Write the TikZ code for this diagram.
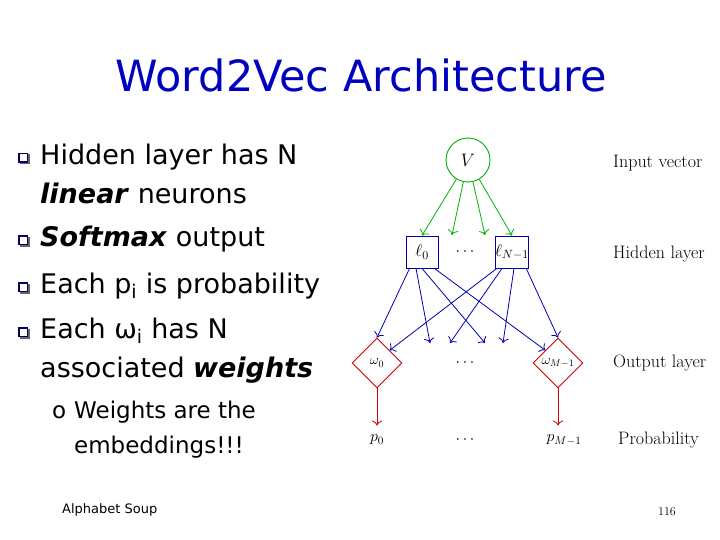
\documentclass[tikz,border=0pt]{standalone}
\usepackage{fix-cm}
\usepackage{fontspec}
\setsansfont{DejaVu Sans}
\usetikzlibrary{shapes.geometric,arrows.meta}
\tikzset{
  slidetxt/.style={anchor=west,inner sep=0pt,font=\sffamily\fontsize{27}{30}\selectfont},
  subtxt/.style={anchor=west,inner sep=0pt,font=\sffamily\fontsize{23}{26}\selectfont},
  sidelbl/.style={anchor=west,inner sep=0pt,font=\fontsize{18}{20}\selectfont},
  hidbox/.style={draw=blue!70!black,line width=0.9pt,minimum size=32pt,inner sep=0pt,font=\fontsize{17}{20}\selectfont},
  outdia/.style={diamond,draw=red!80!black,line width=0.9pt,minimum size=50pt,inner sep=0pt,font=\fontsize{14}{16}\selectfont},
  garr/.style={draw=green!70!black,line width=0.8pt,-{To[length=5pt]}},
  barr/.style={draw=blue!70!black,line width=0.8pt,-{To[length=5pt]}},
  rarr/.style={draw=red!80!black,line width=0.8pt,-{To[length=5pt]}}
}
\newcommand{\qbul}[2]{%
  \fill[black!60] (#1+1.5,#2+1.5) rectangle ++(10,-10);
  \fill[blue!40!black] (#1,#2) rectangle ++(10,-10);
  \fill[white] (#1+1.5,#2-1.5) rectangle ++(7,-7);}
\begin{document}
\begin{tikzpicture}[x=1pt,y=-1pt]
  \useasboundingbox (0,0) rectangle (720,540);
  % title
  \node (title) at (361,75) {\sffamily\fontsize{43}{48}\selectfont\color{blue!75!black}Word2Vec Architecture};
  % bullets
  \qbul{18}{163}
  \node[slidetxt] (b1) at (40,157) {Hidden layer has N};
  \node[slidetxt] (b1b) at (40,193) {\textit{\textbf{linear}} neurons};
  \qbul{18}{245}
  \node[slidetxt] (b2) at (40,239) {\textit{\textbf{Softmax}} output};
  \qbul{18}{292}
  \node[slidetxt] (b3) at (40,286) {Each p\textsubscript{i} is probability};
  \qbul{18}{337}
  \node[slidetxt] (b4) at (40,331) {Each ω\textsubscript{i} has N};
  \node[slidetxt] (b4b) at (40,370) {associated \textit{\textbf{weights}}};
  \node[subtxt] (s1) at (52,412) {o};
  \node[subtxt] (s1a) at (74,412) {Weights are the};
  \node[subtxt] (s1b) at (74,447) {embeddings!!!};
  \node[slidetxt,font=\sffamily\fontsize{13}{15}\selectfont] (foot) at (62,510) {Alphabet Soup};
  \node[font=\fontsize{12}{14}\selectfont] (pg) at (667,512) {116};
  % network
  \node[circle,draw=green!70!black,line width=0.9pt,minimum size=44pt,inner sep=0pt,font=\fontsize{18}{20}\selectfont] (V) at (468,160) {$V$};
  \node[font=\fontsize{16}{18}\selectfont] (ldots) at (465,252) {$\cdots$};
  \node[hidbox] (l0) at (422,252) {$\ell_0$};
  \node[hidbox] (lN) at (512,252) {$\ell_{N-1}$};
  \node[outdia] (w0) at (377,363) {$\omega_0$};
  \node[font=\fontsize{16}{18}\selectfont] (wdots) at (465,363) {$\cdots$};
  \node[outdia] (wM) at (558,363) {$\omega_{M-1}$};
  \node[font=\fontsize{16}{18}\selectfont] (p0) at (377,440) {$p_0$};
  \node[font=\fontsize{16}{18}\selectfont] (pdots) at (465,440) {$\cdots$};
  \node[font=\fontsize{16}{18}\selectfont] (pM) at (564,440) {$p_{M-1}$};
  \coordinate (h1) at (452,235);
  \coordinate (h2) at (485,235);
  \coordinate (o1) at (430,343);
  \coordinate (o2) at (450,343);
  \coordinate (o3) at (485,343);
  \coordinate (o4) at (503,343);
  \draw[garr] (V) -- (l0.north);
  \draw[garr] (V) -- (h1);
  \draw[garr] (V) -- (h2);
  \draw[garr] (V) -- (lN.north);
  \draw[barr] (l0.south west) ++(4,0) -- (w0.north);
  \draw[barr] (l0.south) ++(-6,0) -- (o1);
  \draw[barr] (l0.south) -- (o3);
  \draw[barr] (l0.south east) ++(-4,0) -- (wM.north west);
  \draw[barr] (lN.south west) ++(2,0) -- (w0.north east);
  \draw[barr] (lN.south) ++(-10,0) -- (o2);
  \draw[barr] (lN.south) ++(2,0) -- (o4);
  \draw[barr] (lN.south east) ++(-3,0) -- (wM.north);
  \draw[rarr] (w0.south) -- ++(0,37);
  \draw[rarr] (wM.south) -- ++(0,37);
  % layer labels
  \node[sidelbl] (lin) at (613,163) {Input vector};
  \node[sidelbl] (lhid) at (613,254) {Hidden layer};
  \node[sidelbl] (lout) at (613,363) {Output layer};
  \node[sidelbl] (lprob) at (618,440) {Probability};
\end{tikzpicture}
\end{document}
